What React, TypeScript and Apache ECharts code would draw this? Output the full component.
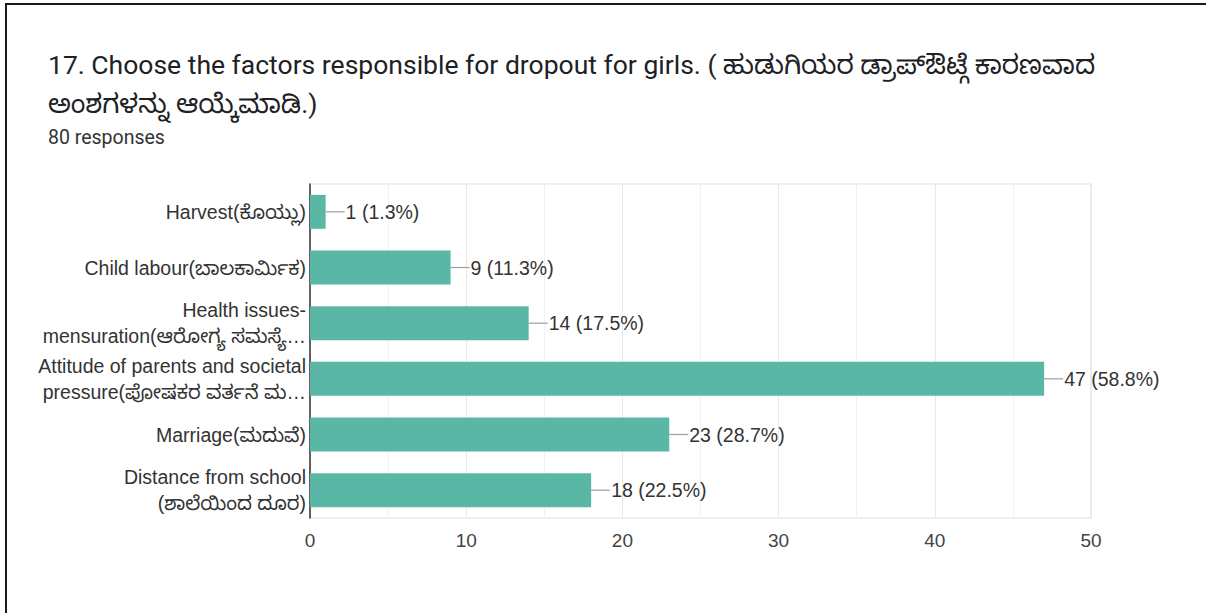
import React, { useEffect, useRef } from "react";
import * as echarts from "echarts";

const titleLines = [
  "17. Choose the factors responsible for dropout for girls. ( ಹುಡುಗಿಯರ ಡ್ರಾಪ್ಔಟ್ಗೆ ಕಾರಣವಾದ",
  "ಅಂಶಗಳನ್ನು ಆಯ್ಕೆಮಾಡಿ.)",
];
const responsesText = "80 responses";

const categories = [
  "Harvest(ಕೊಯ್ಲು)",
  "Child labour(ಬಾಲಕಾರ್ಮಿಕ)",
  "Health issues-\nmensuration(ಆರೋಗ್ಯ ಸಮಸ್ಯೆ…",
  "Attitude of parents and societal\npressure(ಪೋಷಕರ ವರ್ತನೆ ಮ…",
  "Marriage(ಮದುವೆ)",
  "Distance from school\n(ಶಾಲೆಯಿಂದ ದೂರ)",
];
const counts = [1, 9, 14, 47, 23, 18];
const percentLabels = ["1.3%", "11.3%", "17.5%", "58.8%", "28.7%", "22.5%"];

const xMin = 0;
const xMax = 50;
const xInterval = 10;

const TITLE_FONT = "Roboto, 'Noto Sans Kannada', 'Noto Sans', sans-serif";
const LABEL_FONT = "'Liberation Sans', Arial, 'Noto Sans Kannada', 'Noto Sans', sans-serif";

export default function App() {
  const ref = useRef<HTMLDivElement>(null);

  useEffect(() => {
    if (!ref.current) return;
    const chart = echarts.init(ref.current, undefined, { renderer: "svg" });

    const labelData = counts.map((v, i) => [v, i, `${v} (${percentLabels[i]})`]);

    chart.setOption({
      animation: false,
      backgroundColor: "#ffffff",
      title: [
        {
          text: titleLines.join("\n"),
          left: 48,
          top: 45,
          padding: 0,
          textStyle: {
            fontFamily: TITLE_FONT,
            fontSize: 26.5,
            fontWeight: "normal",
            color: "#202124",
            lineHeight: 39,
          },
        },
        {
          text: responsesText,
          left: 48,
          top: 126,
          padding: 0,
          textStyle: {
            fontFamily: TITLE_FONT,
            fontSize: 19.5,
            fontWeight: "normal",
            color: "#333333",
            lineHeight: 22,
          },
        },
      ],
      graphic: [
        { type: "rect", shape: { x: 5, y: 3, width: 2, height: 610 }, style: { fill: "#1a1a1a" }, silent: true },
        { type: "rect", shape: { x: 5, y: 3, width: 1201, height: 2 }, style: { fill: "#1a1a1a" }, silent: true },
      ],
      grid: {
        left: 310,
        right: 115,
        top: 184,
        bottom: 95,
        show: true,
        borderColor: "#ececec",
        borderWidth: 1.5,
        backgroundColor: "transparent",
      },
      xAxis: {
        type: "value",
        min: xMin,
        max: xMax,
        interval: xInterval,
        axisLine: { show: false },
        axisTick: { show: false },
        axisLabel: {
          fontFamily: LABEL_FONT,
          fontSize: 19,
          color: "#444444",
          margin: 13,
        },
        splitLine: { show: true, lineStyle: { color: "#e8e8e8", width: 1 } },
        minorTick: { show: false, splitNumber: 2 },
        minorSplitLine: { show: true, lineStyle: { color: "#f2f2f2", width: 1 } },
      },
      yAxis: {
        type: "category",
        data: categories,
        inverse: true,
        axisLine: { show: true, lineStyle: { color: "#333333", width: 1.5 } },
        axisTick: { show: false },
        axisLabel: {
          fontFamily: LABEL_FONT,
          fontSize: 19.5,
          color: "#333333",
          lineHeight: 26,
          margin: 4,
          align: "right",
        },
        splitLine: { show: false },
      },
      series: [
        {
          type: "bar",
          data: counts,
          barCategoryGap: "39%",
          itemStyle: { color: "#5ab7a6" },
          z: 2,
        },
        {
          type: "custom",
          data: labelData,
          encode: { x: 0, y: 1 },
          z: 3,
          renderItem: (params: any, api: any) => {
            const p = api.coord([api.value(0), api.value(1)]);
            const idx = params.dataIndex;
            const txt = labelData[idx][2] as string;
            return {
              type: "group",
              children: [
                {
                  type: "line",
                  shape: { x1: p[0], y1: p[1], x2: p[0] + 19, y2: p[1] },
                  style: { stroke: "#9e9e9e", lineWidth: 1.2 },
                },
                {
                  type: "text",
                  x: p[0] + 20,
                  y: p[1],
                  style: {
                    text: txt,
                    fontFamily: LABEL_FONT,
                    fontSize: 19.5,
                    fill: "#333333",
                    textAlign: "left",
                    textVerticalAlign: "middle",
                  },
                },
              ],
            };
          },
        },
      ],
    });

    return () => chart.dispose();
  }, []);

  return (
    <div
      ref={ref}
      style={{ position: "fixed", left: 0, top: 0, width: 1206, height: 613, background: "#fff" }}
    />
  );
}
